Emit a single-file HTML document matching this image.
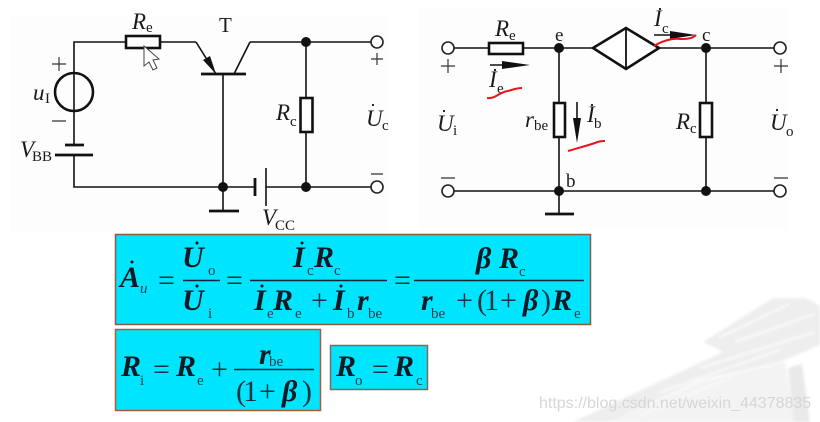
<!DOCTYPE html>
<html><head><meta charset="utf-8"><style>
html,body{margin:0;padding:0;background:#fff;width:820px;height:422px;overflow:hidden}
svg{display:block;filter:blur(0.35px)}
text{font-family:"Liberation Serif",serif;fill:#1a1a1a}
.w{stroke:#111;stroke-width:1.6;fill:none}
.p{stroke:#333;stroke-width:1.2;fill:none}
.t{stroke:#111;stroke-width:2.8;fill:none}
.i{font-style:italic}
.s{font-size:15px}
.m{font-size:23px}
.f{font-size:30px;font-weight:bold;font-style:italic;fill:#0d1a24}
.b{font-size:15px;fill:#1f3d48}
.o{font-size:30px;fill:#12323e}
.l{stroke:#123;stroke-width:1.4;fill:none}
.r{stroke:#e8141c;stroke-width:2;fill:none}
</style></head><body>
<svg width="820" height="422" viewBox="0 0 820 422" xmlns="http://www.w3.org/2000/svg">
<defs><filter id="bl" x="-5%" y="-5%" width="110%" height="110%"><feGaussianBlur stdDeviation="1.3"/></filter></defs>
<rect x="10" y="15" width="378" height="218" fill="#fdfdfd"/>
<rect x="418" y="8" width="370" height="222" fill="#fdfdfd"/>

<!-- building -->
<g filter="url(#bl)">
<g fill="#eeeeee">
<polygon points="703,342 773,298 805,298 820,306 820,322 745,345 723,352"/>
<polygon points="723,352 820,320 820,345 780,362 700,380 610,422 573,422"/>
</g>
<polygon points="610,422 700,382 785,362 795,422" fill="#f3f3f3"/>
<polygon points="788,368 802,364 810,422 794,422" fill="#e9e9e9"/>
<g stroke="#fafafa" stroke-width="2" fill="none">
<path d="M718,338 790,304M735,342 815,314M700,368 815,332M660,392 780,350M640,415 730,378"/>
</g>
</g>

<!-- left circuit -->
<path class="w" d="M196,42H74V145M74,155V187H371M250,42H371M223,74V211M306,42V98M306,132V187M160,42H126"/>
<path class="w" d="M196,42L216,74M234,74L250,42"/>
<path class="t" d="M201,74H246" stroke-width="2.4"/>
<polygon points="216,74 203,60 210,56" fill="#111"/>
<rect x="126" y="36" width="34" height="12" fill="#fff" stroke="#111" stroke-width="2.6"/>
<rect x="300.500" y="98" width="12" height="34" fill="#fff" stroke="#111" stroke-width="2.6"/>
<circle cx="74" cy="92" r="19" fill="none" stroke="#111" stroke-width="2.6"/>
<path class="t" d="M65,145H84M55,155H93M209,211H239"/>
<rect x="256" y="183" width="10" height="8" fill="#fdfdfd"/>
<path class="t" d="M255,178V196"/>
<path class="w" d="M266,168V206" stroke-width="2"/>
<circle cx="306" cy="42" r="5" fill="#111"/><circle cx="223" cy="187" r="5" fill="#111"/><circle cx="306" cy="187" r="5" fill="#111"/>
<circle cx="377" cy="42" r="6" fill="#fff" stroke="#222" stroke-width="1.6"/>
<circle cx="377" cy="187" r="6" fill="#fff" stroke="#222" stroke-width="1.6"/>
<path d="M144,46 L144,66 L149,62 L153,70 L157,68 L153,60 L159,59 Z" fill="#fff" stroke="#444" stroke-width="1"/>
<path class="p" d="M371,59H383M377,53V65M371,174H383M52,64H66M59,57V71M52,121H66"/>
<text x="132" y="29" class="i m">R</text><text x="146" y="32" class="s">e</text>
<text x="219" y="32" style="font-size:21px">T</text>
<text x="33" y="100" class="i m">u</text><text x="45" y="103" class="s">I</text>
<text x="20" y="157" class="i m">V</text><text x="32" y="161" class="s">BB</text>
<text x="276" y="120" class="i m">R</text><text x="290" y="126" class="s">c</text>
<text x="366" y="126" class="i m">U</text><text x="382" y="130" class="s">c</text><circle cx="373" cy="105" r="1.1" fill="#111"/>
<text x="262" y="225" class="i m">V</text><text x="275" y="230" class="s">CC</text>

<!-- right circuit -->
<path class="w" d="M454,48H489M523,48H593M659,48H775M454,191H775M559,48V103M559,137V214M706,48V103M706,137V191"/>
<rect x="489" y="43" width="34" height="11" fill="#fff" stroke="#111" stroke-width="2.6"/>
<rect x="554" y="103" width="11" height="34" fill="#fff" stroke="#111" stroke-width="2.6"/>
<rect x="700" y="103" width="12" height="34" fill="#fff" stroke="#111" stroke-width="2.6"/>
<polygon points="593,48 626,28 659,48 626,69" fill="#fff" stroke="#111" stroke-width="2.6"/>
<path d="M626,28V69" stroke="#111" stroke-width="1.800"/>
<path class="t" d="M545,214H574"/>
<circle cx="559" cy="48" r="5" fill="#111"/><circle cx="706" cy="48" r="5" fill="#111"/><circle cx="559" cy="191" r="5" fill="#111"/><circle cx="706" cy="191" r="5" fill="#111"/>
<circle cx="448" cy="48" r="6" fill="#fff" stroke="#222" stroke-width="1.6"/>
<circle cx="448" cy="191" r="6" fill="#fff" stroke="#222" stroke-width="1.6"/>
<circle cx="780" cy="48" r="6" fill="#fff" stroke="#222" stroke-width="1.6"/>
<circle cx="780" cy="191" r="6" fill="#fff" stroke="#222" stroke-width="1.6"/>
<path class="p" d="M441,66H455M448,59V73M441,178H455M774,66H788M781,59V73M774,178H788"/>
<path class="w" stroke-width="1.300" d="M490,65H505M654,35H680M577,102V130"/>
<polygon points="530,65 502,61 502,69" fill="#111"/>
<polygon points="696,35 670,31 670,39" fill="#111"/>
<polygon points="577,143 573,118 581,118" fill="#111"/>
<text x="495" y="36" class="i m">R</text><text x="509" y="40" class="s">e</text>
<text x="555" y="41" style="font-size:19px">e</text>
<text x="702" y="41" style="font-size:19px">c</text>
<text x="566" y="187" style="font-size:19px">b</text>
<text x="489" y="87" class="i m">I</text><text x="497" y="93" class="s">e</text><circle cx="495" cy="70" r="1.1" fill="#111"/>
<text x="654" y="26" class="i m">I</text><text x="662" y="33" class="s">c</text><circle cx="660" cy="9" r="1.1" fill="#111"/>
<text x="587" y="122" class="i m">I</text><text x="594" y="128" class="s">b</text><circle cx="592" cy="105" r="1.1" fill="#111"/>
<text x="525" y="127" class="i m">r</text><text x="534" y="130" class="s">be</text>
<text x="676" y="129" class="i m">R</text><text x="690" y="133" class="s">c</text>
<text x="437" y="131" class="i m">U</text><text x="453" y="135" class="s">i</text><circle cx="444" cy="111" r="1.1" fill="#111"/>
<text x="770" y="130" class="i m">U</text><text x="786" y="136" class="s">o</text><circle cx="777" cy="110" r="1.1" fill="#111"/>
<path class="r" d="M487,98C496,99 499,92 508,91C512,90 516,88 522,88"/>
<path class="r" d="M568,151C578,148 586,146 595,143C599,141 602,141 605,141"/>
<path class="r" d="M654,46C662,41 672,38 680,39C686,39 692,39 696,35"/>

<!-- boxes -->
<rect x="115.500" y="234.500" width="475" height="90" fill="#00e5ff" stroke="#8a5a44" stroke-width="1.500"/>
<rect x="115.500" y="329.500" width="205" height="81" fill="#00e5ff" stroke="#b0583c" stroke-width="1.500"/>
<rect x="330.500" y="345.500" width="97" height="44" fill="#00e5ff" stroke="#7d6a58" stroke-width="1.500"/>

<!-- box 1 -->
<text x="120" y="287" class="f">A</text><text x="140" y="293" class="b i">u</text><circle cx="132" cy="262" r="1.500" fill="#111"/>
<text x="158" y="290" class="o">=</text>
<path class="l" d="M183,280.500H220M250,280.500H387M414,280.500H584"/>
<text x="182" y="267" class="f">U</text><text x="208" y="275" class="b">o</text><circle cx="197" cy="243" r="1.500" fill="#111"/>
<text x="182" y="310" class="f">U</text><text x="208" y="318" class="b">i</text><circle cx="197" cy="286" r="1.500" fill="#111"/>
<text x="226" y="290" class="o">=</text>
<text x="293" y="267" class="f">I</text><text x="307" y="275" class="b">c</text><circle cx="302" cy="243" r="1.500" fill="#111"/>
<text x="314" y="267" class="f">R</text><text x="334" y="275" class="b">c</text>
<text x="254" y="310" class="f">I</text><text x="267" y="318" class="b">e</text><circle cx="262" cy="286" r="1.500" fill="#111"/>
<text x="273" y="310" class="f">R</text><text x="295" y="318" class="b">e</text>
<text x="311" y="310" class="o">+</text>
<text x="333" y="310" class="f">I</text><text x="347" y="318" class="b">b</text><circle cx="341" cy="286" r="1.500" fill="#111"/>
<text x="357" y="310" class="f">r</text><text x="368" y="318" class="b">be</text>
<text x="394" y="290" class="o">=</text>
<text x="476" y="268" class="f">β</text><text x="499" y="268" class="f">R</text><text x="519" y="276" class="b">c</text>
<text x="421" y="310" class="f">r</text><text x="431" y="318" class="b">be</text>
<text x="456" y="310" class="o">+</text>
<text x="477" y="310" class="o">(</text><text x="484" y="310" class="o">1</text>
<text x="500" y="310" class="o">+</text>
<text x="523" y="310" class="f">β</text><text x="541" y="310" class="o">)</text>
<text x="552" y="310" class="f">R</text><text x="574" y="318" class="b">e</text>

<!-- box 2 -->
<text x="121" y="376" class="f">R</text><text x="140" y="385" class="b">i</text>
<text x="153" y="379" class="o">=</text>
<text x="176" y="376" class="f">R</text><text x="197" y="385" class="b">e</text>
<text x="211" y="379" class="o">+</text>
<path class="l" d="M234,369.500H314"/>
<text x="259" y="364" class="f">r</text><text x="269" y="366" class="b">be</text>
<text x="236" y="401" class="o">(</text><text x="243" y="401" class="o">1</text>
<text x="259" y="401" class="o">+</text>
<text x="282" y="401" class="f">β</text><text x="302" y="401" class="o">)</text>

<!-- box 3 -->
<text x="336" y="376" class="f">R</text><text x="355" y="385" class="b">o</text>
<text x="372" y="379" class="o">=</text>
<text x="394" y="376" class="f">R</text><text x="416" y="385" class="b">c</text>

<text x="539" y="408" style="font-family:'Liberation Sans',sans-serif;font-size:16px;fill:#d6d6d6">https://blog.csdn.net/weixin_44378835</text>
</svg>
</body></html>
